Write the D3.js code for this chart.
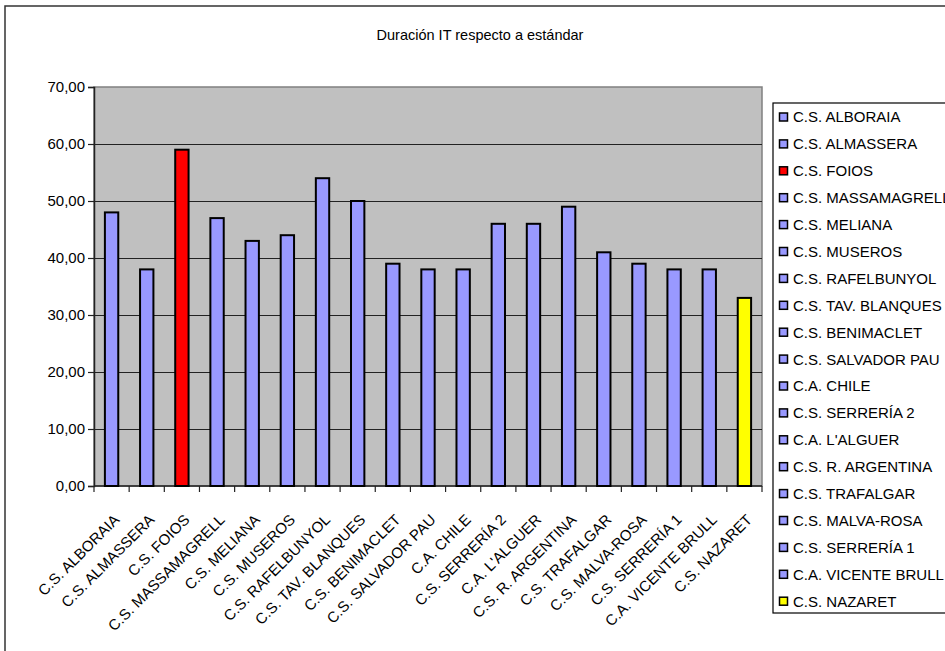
<!DOCTYPE html>
<html>
<head>
<meta charset="utf-8">
<script src="https://cdn.jsdelivr.net/npm/d3@7"></script>
<style>
  html, body { margin: 0; padding: 0; background: #fff; }
  svg { display: block; font-family: "Liberation Sans", Arial, sans-serif; }
</style>
</head>
<body>
<svg id="chart" width="945" height="651"></svg>
<script>
// ---- data ----
const title = "Duración IT respecto a estándar";
const categories = [
  "C.S. ALBORAIA", "C.S. ALMASSERA", "C.S. FOIOS", "C.S. MASSAMAGRELL",
  "C.S. MELIANA", "C.S. MUSEROS", "C.S. RAFELBUNYOL", "C.S. TAV. BLANQUES",
  "C.S. BENIMACLET", "C.S. SALVADOR PAU", "C.A. CHILE", "C.S. SERRERÍA 2",
  "C.A. L'ALGUER", "C.S. R. ARGENTINA", "C.S. TRAFALGAR", "C.S. MALVA-ROSA",
  "C.S. SERRERÍA 1", "C.A. VICENTE BRULL", "C.S. NAZARET"
];
const values = [48, 38, 59, 47, 43, 44, 54, 50, 39, 38, 38, 46, 46, 49, 41, 39, 38, 38, 33];
const yTicks = [0, 10, 20, 30, 40, 50, 60, 70];
const highlighted = ["C.S. FOIOS", "C.S. NAZARET"];
const highlightColors = ["#FF0000", "#FFFF00"];
const defaultColor = "#9999FF";

// ---- layout ----
const svg = d3.select("#chart");
const plot = { left: 94, right: 762, top: 87, bottom: 486 };

const color = d3.scaleOrdinal().domain(highlighted).range(highlightColors).unknown(defaultColor);

const x = d3.scaleBand().domain(categories).range([plot.left, plot.right]).paddingInner(0).paddingOuter(0);
const y = d3.scaleLinear().domain([0, 70]).range([plot.bottom, plot.top]);
const fmt = v => d3.format(".2f")(v).replace(".", ",");

// outer frame
svg.append("rect")
  .attr("x", 5).attr("y", 6).attr("width", 1000).attr("height", 700)
  .attr("fill", "#fff").attr("stroke", "#333").attr("stroke-width", 1.5);

// title
svg.append("text")
  .attr("x", 480).attr("y", 40)
  .attr("text-anchor", "middle")
  .attr("font-size", 14.5).attr("fill", "#000")
  .text(title);

// plot background
svg.append("rect")
  .attr("x", plot.left).attr("y", plot.top)
  .attr("width", plot.right - plot.left).attr("height", plot.bottom - plot.top)
  .attr("fill", "#C0C0C0").attr("stroke", "#808080").attr("stroke-width", 1.5);

// gridlines
svg.append("g")
  .selectAll("line")
  .data(yTicks.filter(t => t > 0 && t < 70))
  .join("line")
  .attr("x1", plot.left).attr("x2", plot.right)
  .attr("y1", d => Math.round(y(d)) + 0.5).attr("y2", d => Math.round(y(d)) + 0.5)
  .attr("stroke", "#222").attr("stroke-width", 1.2);

// y axis
const yAxis = svg.append("g")
  .attr("transform", `translate(${plot.left},0)`)
  .call(d3.axisLeft(y).tickValues(yTicks).tickFormat(fmt).tickSize(6).tickPadding(3));
yAxis.select(".domain").attr("stroke", "#222").attr("stroke-width", 1.5);
yAxis.selectAll(".tick line").attr("stroke", "#222").attr("stroke-width", 1.2);
yAxis.selectAll(".tick text")
  .attr("font-size", 15).attr("fill", "#000")
  .attr("font-family", "'Liberation Sans', Arial, sans-serif");

// x axis (ticks at band boundaries)
const xAxisG = svg.append("g");
xAxisG.append("line")
  .attr("x1", plot.left).attr("x2", plot.right)
  .attr("y1", plot.bottom).attr("y2", plot.bottom)
  .attr("stroke", "#222").attr("stroke-width", 1.5);
const boundaries = categories.map(c => x(c)).concat([x(categories[categories.length - 1]) + x.bandwidth()]);
xAxisG.selectAll("line.tk")
  .data(boundaries)
  .join("line").attr("class", "tk")
  .attr("x1", d => d).attr("x2", d => d)
  .attr("y1", plot.bottom).attr("y2", plot.bottom + 6)
  .attr("stroke", "#222").attr("stroke-width", 1.2);

// x labels rotated
xAxisG.selectAll("text.lbl")
  .data(categories)
  .join("text").attr("class", "lbl")
  .attr("transform", d => `translate(${x(d) + x.bandwidth() / 2 + 1},${plot.bottom + 27}) rotate(-45)`)
  .attr("text-anchor", "end")
  .attr("dy", "0.72em")
  .attr("font-size", 15).attr("fill", "#000")
  .text(d => d);

// bars
const barW = x.bandwidth() * 0.38;
svg.append("g")
  .selectAll("rect")
  .data(categories.map((c, i) => ({ c, v: values[i] })))
  .join("rect")
  .attr("x", d => x(d.c) + (x.bandwidth() - barW) / 2)
  .attr("y", d => y(d.v))
  .attr("width", barW)
  .attr("height", d => y(0) - y(d.v))
  .attr("fill", d => color(d.c))
  .attr("stroke", "#000").attr("stroke-width", 2);

// legend
const leg = { left: 773, top: 103, bottom: 613, first: 117, step: 26.9 };
svg.append("rect")
  .attr("x", leg.left).attr("y", leg.top)
  .attr("width", 300).attr("height", leg.bottom - leg.top)
  .attr("fill", "#fff").attr("stroke", "#000").attr("stroke-width", 1.2);
const items = svg.append("g").selectAll("g")
  .data(categories)
  .join("g")
  .attr("transform", (d, i) => `translate(${leg.left},${leg.first + i * leg.step})`);
items.append("rect")
  .attr("x", 6.5).attr("y", -4).attr("width", 8).attr("height", 8)
  .attr("fill", d => color(d)).attr("stroke", "#000").attr("stroke-width", 1.5);
items.append("text")
  .attr("x", 20).attr("y", 0).attr("dy", "0.36em")
  .attr("font-size", 15).attr("fill", "#000")
  .text(d => d);
</script>
</body>
</html>
